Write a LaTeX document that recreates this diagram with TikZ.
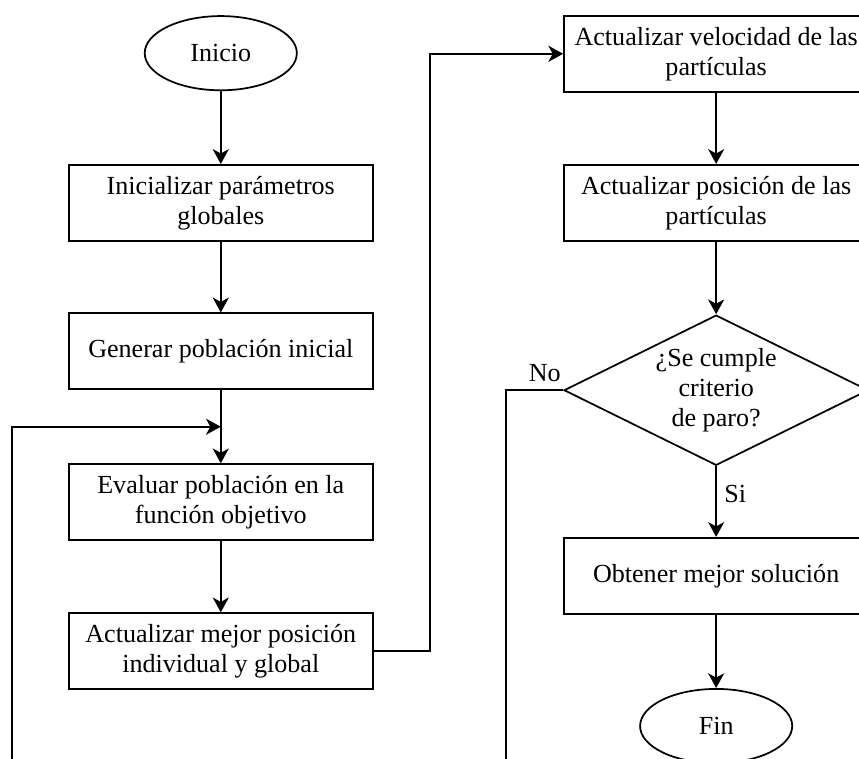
\documentclass[tikz,border=0pt]{standalone}
\usepackage{fontspec}
\setmainfont{Liberation Serif}
\usetikzlibrary{shapes.geometric,arrows.meta}
\begin{document}
\begin{tikzpicture}[every node/.style={font=\fontsize{12}{13.8}\selectfont},
  box/.style={draw,line width=0.8pt,minimum width=4.92cm,minimum height=1.23cm,align=center},
  term/.style={draw,ellipse,line width=0.8pt,minimum width=2.46cm,minimum height=1.2cm},
  dec/.style={draw,diamond,shape aspect=2,line width=0.8pt,minimum width=4.92cm,minimum height=2.43cm,inner sep=0pt,align=center},
  arr/.style={-{Stealth[length=6.8pt,width=7.4pt,inset=2pt]},line width=0.8pt},
  lin/.style={line width=0.8pt}]
  \useasboundingbox (0,0) rectangle (13.89,-12.27);
  \clip (0,0) rectangle (13.89,-12.27);
  % left column
  \node[term] (ini) at (3.57,-0.86) {Inicio};
  \node[box] (param) at (3.57,-3.28) {Inicializar parámetros\\globales};
  \node[box] (gen) at (3.57,-5.68) {Generar población inicial};
  \node[box] (eval) at (3.57,-8.12) {Evaluar población en la\\función objetivo};
  \node[box] (best) at (3.57,-10.53) {Actualizar mejor posición\\individual y global};
  % right column
  \node[box] (vel) at (11.58,-0.87) {Actualizar velocidad de las\\partículas};
  \node[box] (pos) at (11.58,-3.28) {Actualizar posición de las\\partículas};
  \node[dec] (stop) at (11.58,-6.31) {¿Se cumple\\criterio\\de paro?};
  \node[box] (sol) at (11.58,-9.31) {Obtener mejor solución};
  \node[term] (fin) at (11.58,-11.74) {Fin};
  % loop points
  \coordinate (merge) at (3.57,-6.90);
  \coordinate (loopin) at (0.19,-12.3);
  \coordinate (bend) at (6.95,-10.53);
  \coordinate (noout) at (8.18,-12.3);
  % flow
  \draw[arr] (ini) -- (param);
  \draw[arr] (param) -- (gen);
  \draw[arr] (gen) -- (eval);
  \draw[arr] (loopin) |- (merge);
  \draw[arr] (eval) -- (best);
  \draw[arr] (best) -- (bend) |- (vel);
  \draw[arr] (vel) -- (pos);
  \draw[arr] (pos) -- (stop);
  \draw[arr] (stop) -- (sol) node[pos=0.4,right] {Si};
  \draw[arr] (sol) -- (fin);
  \draw[lin] (stop.west) -| (noout);
  \node (nolbl) at (8.81,-6.03) {No};
\end{tikzpicture}
\end{document}
